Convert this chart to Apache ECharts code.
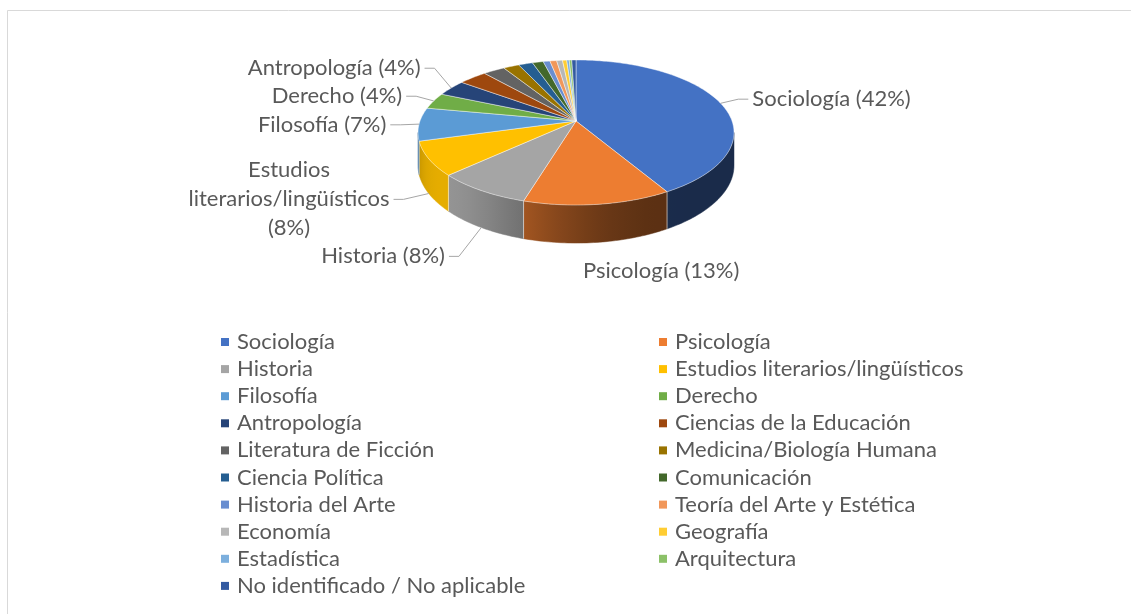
<!DOCTYPE html>
<html>
<head>
<meta charset="utf-8">
<script src="https://cdn.jsdelivr.net/npm/echarts@6/dist/echarts.min.js"></script>
<style>
html, body { margin: 0; padding: 0; background: #fff; }
#chart { width: 1131px; height: 614px; }
</style>
</head>
<body>
<div id="chart"></div>
<script>
// datos (porcentaje de cada disciplina)
var categories = ['Sociología', 'Psicología', 'Historia', 'Estudios literarios/lingüísticos', 'Filosofía',
    'Derecho', 'Antropología', 'Ciencias de la Educación', 'Literatura de Ficción', 'Medicina/Biología Humana',
    'Ciencia Política', 'Comunicación', 'Historia del Arte', 'Teoría del Arte y Estética', 'Economía',
    'Geografía', 'Estadística', 'Arquitectura', 'No identificado / No aplicable'];
var shares = [41.6, 13.0, 8.4, 7.6, 7.4, 3.6, 3.6, 3.4, 2.6, 1.9, 1.7, 1.3, 0.8, 0.8, 0.7, 0.5, 0.3, 0.3, 0.5];
var colors = ['#4472C4', '#ED7D31', '#A5A5A5', '#FFC000', '#5B9BD5', '#70AD47', '#264478', '#9E480E', '#636363',
    '#997300', '#255E91', '#43682B', '#698ED0', '#F1975A', '#B7B7B7', '#FFCD33', '#7CAFDD', '#8CC168', '#335AA1'];
var labelMin = 3.5; // por debajo no se etiqueta

// geometria del pastel 3D (perspectiva simple)
var cx = 576, cy = 121, rx = 156, ry = 70.7, persp = 0.1586, depth = 32;
var textColor = '#595959';
var fontFamily = 'Lato';
var labelSize = 22;

var starts = [];
var total = 0;
for (var i = 0; i < shares.length; i++) {
    starts.push(total);
    total += shares[i];
}
function ang(x) { return x / total * 2 * Math.PI; }

function proj(t, r, drop) {
    var u = Math.sin(t) * r, v = -Math.cos(t) * r;
    var w = 1 / (1 - persp * v);
    return [cx + rx * u * w, cy + ry * v * w + drop * w];
}

// parte visible de la pared lateral
var sideFrom = Math.acos(-persp), sideTo = 2 * Math.PI - Math.acos(-persp);

function light(t) {
    var c = Math.cos(t - 230 * Math.PI / 180);
    return 0.38 + 0.52 * Math.pow(Math.max(0, c), 3);
}
function shade(hex, f) {
    var n = parseInt(hex.slice(1), 16);
    var r = Math.round(((n >> 16) & 255) * f), g = Math.round(((n >> 8) & 255) * f), b = Math.round((n & 255) * f);
    return 'rgb(' + r + ',' + g + ',' + b + ')';
}

// etiquetas
var ctx = document.createElement('canvas').getContext('2d');
ctx.font = labelSize + 'px ' + fontFamily;
function wrap(text, maxW) {
    var words = text.split(' '), lines = [], cur = '';
    words.forEach(function (wd) {
        var t = cur ? cur + ' ' + wd : wd;
        if (cur && ctx.measureText(t).width > maxW) {
            lines.push(cur);
            cur = wd;
        } else {
            cur = t;
        }
    });
    lines.push(cur);
    return lines;
}

var labels = {};
var sides = { left: [], right: [] };
for (var i = 0; i < shares.length; i++) {
    if (shares[i] < labelMin) continue;
    var m = ang(starts[i] + shares[i] / 2);
    var u = Math.sin(m), v = -Math.cos(m);
    var front = m > sideFrom && m < sideTo;
    var S = proj(m, 1, front ? depth : 0);
    var pct = Math.round(shares[i] / total * 100);
    var lines = wrap(categories[i] + ' (' + pct + '%)', 205);
    var bw = 0;
    lines.forEach(function (l) { bw = Math.max(bw, ctx.measureText(l).width); });
    var lb = { S: S, lines: lines, bw: bw, h: (lines.length - 1) * 29 + 22, u: u };
    if (Math.abs(u) < 0.35) {
        lb.bottom = true;
        lb.x = S[0] - 15 + bw / 2;
        lb.y = S[1] + 29;
    } else {
        var dx = u, dy = v * 0.55, dl = Math.sqrt(dx * dx + dy * dy);
        var lead = 28 + 18 * Math.max(0, v);
        lb.sign = u > 0 ? 1 : -1;
        lb.ax = S[0] + dx / dl * lead;
        lb.y = S[1] + dy / dl * lead;
        sides[u > 0 ? 'right' : 'left'].push(lb);
    }
    labels[i] = lb;
}
// evitar solapes verticales
['left', 'right'].forEach(function (k) {
    var arr = sides[k].sort(function (a, b) { return a.y - b.y; });
    for (var j = arr.length - 2; j >= 0; j--) {
        var maxY = arr[j + 1].y - (arr[j].h + arr[j + 1].h) / 2 - 6;
        if (arr[j].y > maxY) arr[j].y = maxY;
    }
    arr.forEach(function (lb) { lb.x = lb.ax + lb.sign * (4 + lb.bw / 2); });
});

// degradado horizontal de la pared lateral, segun la luz
function sideGradient(color, s0, s1) {
    var xs = [], n = 12;
    for (var k = 0; k <= n; k++) {
        var t = s0 + (s1 - s0) * k / n;
        xs.push([proj(t, 1, 0)[0], t]);
    }
    var xmin = Math.min(xs[0][0], xs[n][0]), xmax = Math.max(xs[0][0], xs[n][0]);
    var span = Math.max(1, xmax - xmin);
    var stops = xs.map(function (p) {
        return { offset: Math.min(1, Math.max(0, (p[0] - xmin) / span)), color: shade(color, light(p[1])) };
    }).sort(function (a, b) { return a.offset - b.offset; });
    return { type: 'linear', x: xmin, y: 0, x2: xmin + span, y2: 0, global: true, colorStops: stops };
}

function renderSlice(i) {
    return function () {
        var a0 = ang(starts[i]), a1 = ang(starts[i] + shares[i]);
        var color = colors[i];
        var kids = [];
        var pts = [[cx, cy]];
        var n = Math.max(2, Math.ceil((a1 - a0) / (Math.PI / 180)));
        for (var k = 0; k <= n; k++) pts.push(proj(a0 + (a1 - a0) * k / n, 1, 0));
        kids.push({
            type: 'polygon', z2: 10, shape: { points: pts },
            style: { fill: color, stroke: 'rgba(255,255,255,0.55)', lineWidth: 0.8 }
        });
        var s0 = Math.max(a0, sideFrom), s1 = Math.min(a1, sideTo);
        if (s1 > s0) {
            var mm = Math.max(2, Math.ceil((s1 - s0) / (Math.PI / 180)));
            var top = [], bot = [];
            for (var k = 0; k <= mm; k++) {
                var t = s0 + (s1 - s0) * k / mm;
                top.push(proj(t, 1, 0));
                bot.unshift(proj(t, 1, depth));
            }
            var grad = sideGradient(color, s0, s1);
            kids.push({
                type: 'polygon', z2: 1,
                shape: { points: top.concat(bot) },
                style: { fill: grad, stroke: grad, lineWidth: 0.5 }
            });
            if (a0 >= sideFrom) {
                kids.push({
                    type: 'line', z2: 2,
                    shape: { x1: proj(a0, 1, 0)[0], y1: proj(a0, 1, 0)[1], x2: proj(a0, 1, depth)[0], y2: proj(a0, 1, depth)[1] },
                    style: { stroke: 'rgba(255,255,255,0.7)', lineWidth: 0.8 }
                });
            }
        }
        var lb = labels[i];
        if (lb) {
            if (!lb.bottom) {
                kids.push({
                    type: 'polyline', z2: 15,
                    shape: { points: [lb.S, [lb.ax - lb.sign * 10, lb.y], [lb.ax, lb.y]] },
                    style: { stroke: '#a6a6a6', lineWidth: 1, fill: null }
                });
            }
            kids.push({
                type: 'text', z2: 20, x: lb.x, y: lb.y,
                style: {
                    text: lb.lines.join('\n'), fill: textColor, fontSize: labelSize, fontFamily: fontFamily,
                    align: 'center', verticalAlign: 'middle', textAlign: 'center', textVerticalAlign: 'middle',
                    lineHeight: 29
                }
            });
        }
        return { type: 'group', children: kids };
    };
}

var chart = echarts.init(document.getElementById('chart'));

var series = [];
for (var i = 0; i < categories.length; i++) {
    series.push({
        name: categories[i],
        type: 'custom',
        coordinateSystem: 'none',
        itemStyle: { color: colors[i] },
        data: [[shares[i]]],
        renderItem: renderSlice(i)
    });
}

var leftNames = categories.filter(function (c, k) { return k % 2 === 0; });
var rightNames = categories.filter(function (c, k) { return k % 2 === 1; });
var legendText = { fontFamily: fontFamily, fontSize: labelSize, color: textColor, lineHeight: 22, padding: [0, 0, 0, 3] };

var option = {
    animation: false,
    backgroundColor: '#fff',
    graphic: [{
        type: 'rect', silent: true, z: -10,
        shape: { x: 7.5, y: 10.5, width: 1140, height: 620 },
        style: { fill: null, stroke: '#d9d9d9', lineWidth: 1 }
    }],
    legend: [{
        orient: 'vertical', left: 221, top: 331, padding: 0, data: leftNames,
        icon: 'rect', itemWidth: 8, itemHeight: 8, itemGap: 5.1, textStyle: legendText
    }, {
        orient: 'vertical', left: 659, top: 331, padding: 0, data: rightNames,
        icon: 'rect', itemWidth: 8, itemHeight: 8, itemGap: 5.1, textStyle: legendText
    }],
    series: series
};

chart.setOption(option);
</script>
</body>
</html>
